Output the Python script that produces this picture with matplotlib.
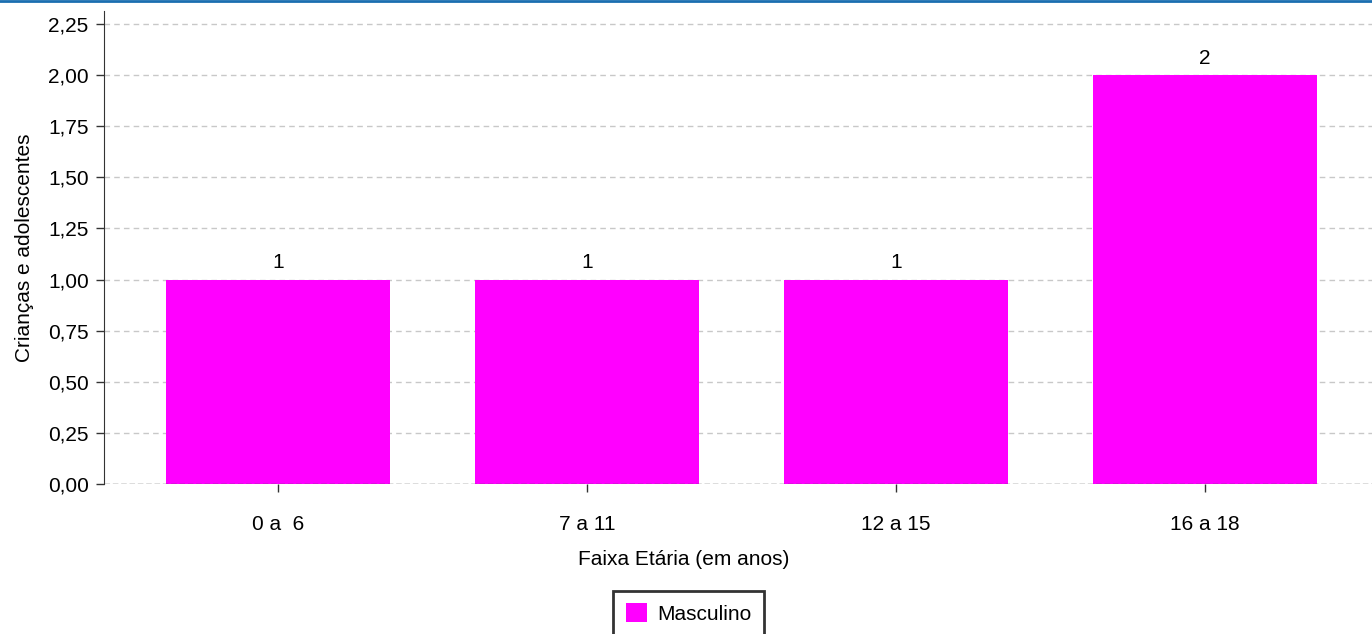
import numpy as np
import matplotlib.pyplot as plt
from matplotlib.ticker import FuncFormatter

plt.rcParams['font.family'] = ['Liberation Sans', 'DejaVu Sans']

faixas = ["0 a  6", "7 a 11", "12 a 15", "16 a 18"]
masculino = [1, 1, 1, 2]
yticks = np.arange(0, 2.26, 0.25)

fs = 15

fig = plt.figure(figsize=(13.72, 6.34), dpi=100)
ax = fig.add_axes([104/1372, 150/634, 1268/1372, 473/634])

x = np.arange(len(faixas))
bars = ax.bar(x, masculino, width=0.725, color="#ff00ff", label="Masculino", zorder=3)
for b, v in zip(bars, masculino):
    ax.text(b.get_x() + b.get_width()/2, v + 0.035, str(v), ha="center", va="bottom", fontsize=fs)

ax.set_xlim(-0.563, 3.54)
ax.set_ylim(0, 2.314)
ax.set_yticks(yticks)
ax.yaxis.set_major_formatter(FuncFormatter(lambda v, p: f"{v:.2f}".replace(".", ",")))
ax.set_xticks(x)
ax.set_xticklabels(faixas)
ax.tick_params(axis="both", labelsize=fs, length=6, width=1, color="#333333", pad=5)
ax.tick_params(axis="x", pad=16)

for t in yticks[1:]:
    ax.axhline(t, color="#c8c8c8", linestyle=(0, (4, 3)), linewidth=1, zorder=1)
ax.axhline(0, color="#555555", linestyle=(0, (4, 2)), linewidth=1, zorder=4)

for s in ["top", "right", "bottom"]:
    ax.spines[s].set_visible(False)
ax.spines["left"].set_color("#333333")

ax.set_xlabel("Faixa Etária (em anos)", fontsize=fs)
ax.xaxis.set_label_coords(0.457, -0.159)
ax.xaxis.label.set_va("center")
ax.set_ylabel("Crianças e adolescentes", fontsize=fs, labelpad=10)

leg = ax.legend(loc="upper center", bbox_to_anchor=(0.461, -0.226), frameon=True,
                fancybox=False, fontsize=fs, handlelength=1, handleheight=1,
                borderpad=0.6, handletextpad=0.5, borderaxespad=0)
leg.get_frame().set_edgecolor("black")
leg.get_frame().set_linewidth(2)

fig.add_artist(plt.Line2D([0, 1], [0.999, 0.999], color="#1a6eb0", linewidth=2))

fig.savefig("out.png", dpi=100)
